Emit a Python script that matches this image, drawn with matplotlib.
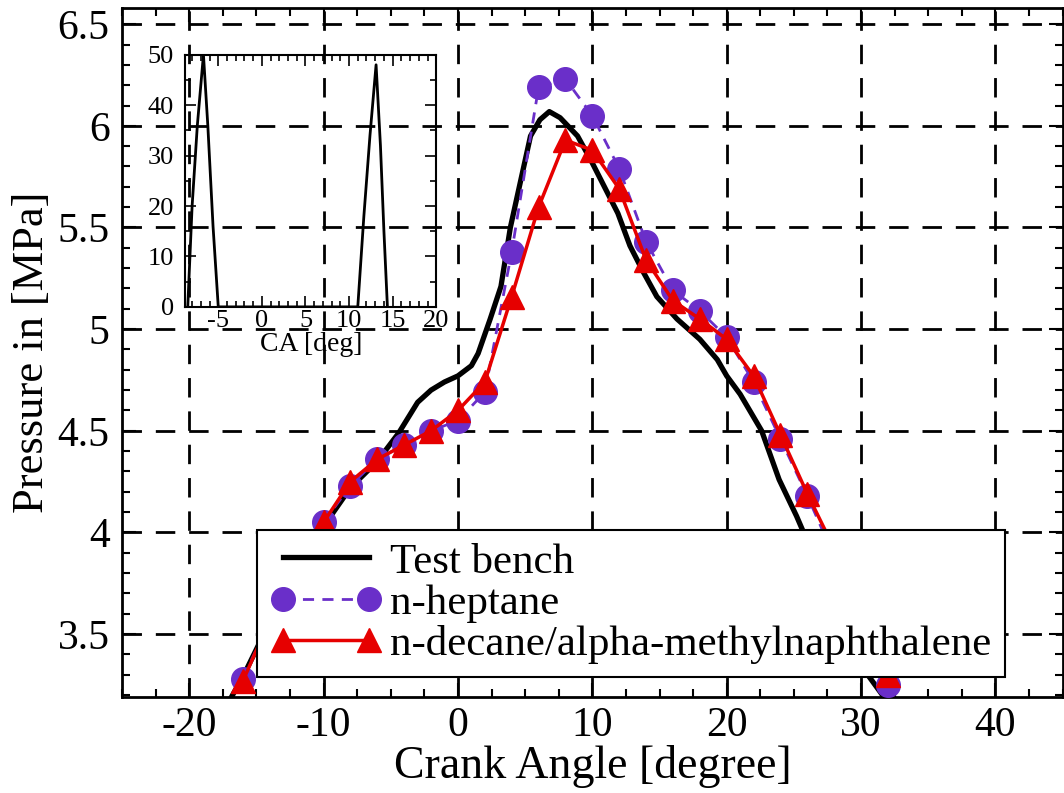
import matplotlib
matplotlib.use("Agg")
import matplotlib.pyplot as plt
from matplotlib.ticker import MultipleLocator, FormatStrFormatter
import numpy as np

plt.rcParams['font.family'] = ['Liberation Serif', 'DejaVu Serif']
plt.rcParams['axes.unicode_minus'] = False

# test bench trace (black line)
test_x = [-17.2, -16, -14, -12, -10, -8, -6, -4.4, -3, -2, -1, 0, 1, 1.5, 2.4, 3.2, 3.9,
          4.7, 5.4, 6.1, 6.8, 7.6, 8.9, 9.9, 10.9, 11.9, 12.8, 13.8, 14.8, 16.3, 18.0,
          19.3, 20, 21, 22.6, 23.9, 25.2, 26.5, 28, 29.5, 30.6, 31.7, 32.2]
test_y = [3.15, 3.29, 3.56, 3.83, 4.03, 4.22, 4.35, 4.49, 4.64, 4.70, 4.74, 4.77, 4.82,
          4.88, 5.05, 5.21, 5.50, 5.74, 5.95, 6.03, 6.07, 6.04, 5.95, 5.83, 5.70, 5.57,
          5.41, 5.28, 5.16, 5.05, 4.95, 4.85, 4.77, 4.68, 4.50, 4.26, 4.08, 3.88, 3.66,
          3.44, 3.29, 3.19, 3.12]

# simulations, every 2 degrees
sim_x = [-16, -14, -12, -10, -8, -6, -4, -2, 0, 2, 4, 6, 8, 10, 12, 14, 16, 18, 20,
         22, 24, 26, 28, 30, 32]
hept_y = [3.28, 3.57, 3.84, 4.05, 4.23, 4.36, 4.43, 4.50, 4.55, 4.69, 5.38, 6.19, 6.23,
          6.05, 5.79, 5.43, 5.19, 5.09, 4.96, 4.74, 4.46, 4.18, 3.88, 3.57, 3.25]
dec_y = [3.27, 3.57, 3.84, 4.05, 4.25, 4.36, 4.43, 4.50, 4.60, 4.74, 5.16, 5.60, 5.93,
         5.88, 5.69, 5.34, 5.14, 5.05, 4.95, 4.77, 4.48, 4.19, 3.92, 3.62, 3.30]

# inset: injection profile
inj_x = [-8.5, -8.0, -7.4, -6.7, -6.2, -5.6, -5.0, 11.0, 11.7, 12.4, 13.1, 13.6, 14.0, 14.4]
inj_y = [0, 20, 36, 50, 36, 16, 0, 0, 18, 34, 48, 32, 15, 0]

purple = '#6a2fc9'
red = '#e60000'

fig = plt.figure(figsize=(10.64, 7.93), dpi=100)
ax = fig.add_axes([0.1147, 0.121, 0.884, 0.869])

ax.plot(test_x, test_y, color='black', lw=3.8, label='Test bench', zorder=3)
ax.plot(sim_x, hept_y, color=purple, lw=2, ls=(0, (4, 3)), marker='o', ms=17,
        label='n-heptane', zorder=3)
ax.plot(sim_x, dec_y, color=red, lw=2.5, marker='^', ms=17,
        label='n-decane/alpha-methylnaphthalene', zorder=4)

ax.set_xlim(-25, 45)
ax.set_ylim(3.19, 6.58)
ax.xaxis.set_major_locator(MultipleLocator(10))
ax.xaxis.set_minor_locator(MultipleLocator(2.5))
ax.yaxis.set_major_locator(MultipleLocator(0.5))
ax.yaxis.set_minor_locator(MultipleLocator(0.1))
ax.xaxis.set_major_formatter(FormatStrFormatter('%g'))
ax.yaxis.set_major_formatter(FormatStrFormatter('%g'))
ax.tick_params(which='both', direction='in', top=True, right=True, labelsize=30, width=1.5)
ax.tick_params(which='major', length=10)
ax.tick_params(which='minor', length=6)
ax.tick_params(axis='x', which='major', pad=7)
ax.tick_params(axis='y', which='major', pad=9)
for s in ax.spines.values():
    s.set_linewidth(2)
ax.grid(True, which='major', color='black', lw=2, ls=(0, (7, 5)))

ax.set_xlabel('Crank Angle [degree]', fontsize=33, labelpad=0)
ax.set_ylabel('Pressure in [MPa]', fontsize=32, labelpad=4)

leg = ax.legend(loc='lower left', bbox_to_anchor=(0.1435, 0.029), borderaxespad=0,
                fontsize=31, numpoints=2, handlelength=2.6, handletextpad=0.2,
                borderpad=0.3, labelspacing=0.05, fancybox=False, framealpha=1,
                edgecolor='black')
leg.get_frame().set_linewidth(1.5)
leg.set_zorder(10)

# inset
ins = fig.add_axes([0.174, 0.613, 0.236, 0.318])
ins.set_facecolor('none')
ins.plot(inj_x, inj_y, color='black', lw=2)
ins.set_xlim(-8.8, 20)
ins.set_ylim(0, 50)
ins.xaxis.set_major_locator(MultipleLocator(5))
ins.xaxis.set_minor_locator(MultipleLocator(1))
ins.yaxis.set_major_locator(MultipleLocator(10))
ins.yaxis.set_minor_locator(MultipleLocator(5))
ins.tick_params(which='both', direction='in', top=True, right=True, labelsize=19, width=1.2)
ins.tick_params(which='major', length=8)
ins.tick_params(which='minor', length=4)
ins.tick_params(axis='x', which='major', pad=2)
ins.tick_params(axis='y', which='major', pad=8)
for s in ins.spines.values():
    s.set_linewidth(1.5)
ins.set_xlabel('CA [deg]', fontsize=20, labelpad=0)

fig.savefig('out.png', dpi=100)
